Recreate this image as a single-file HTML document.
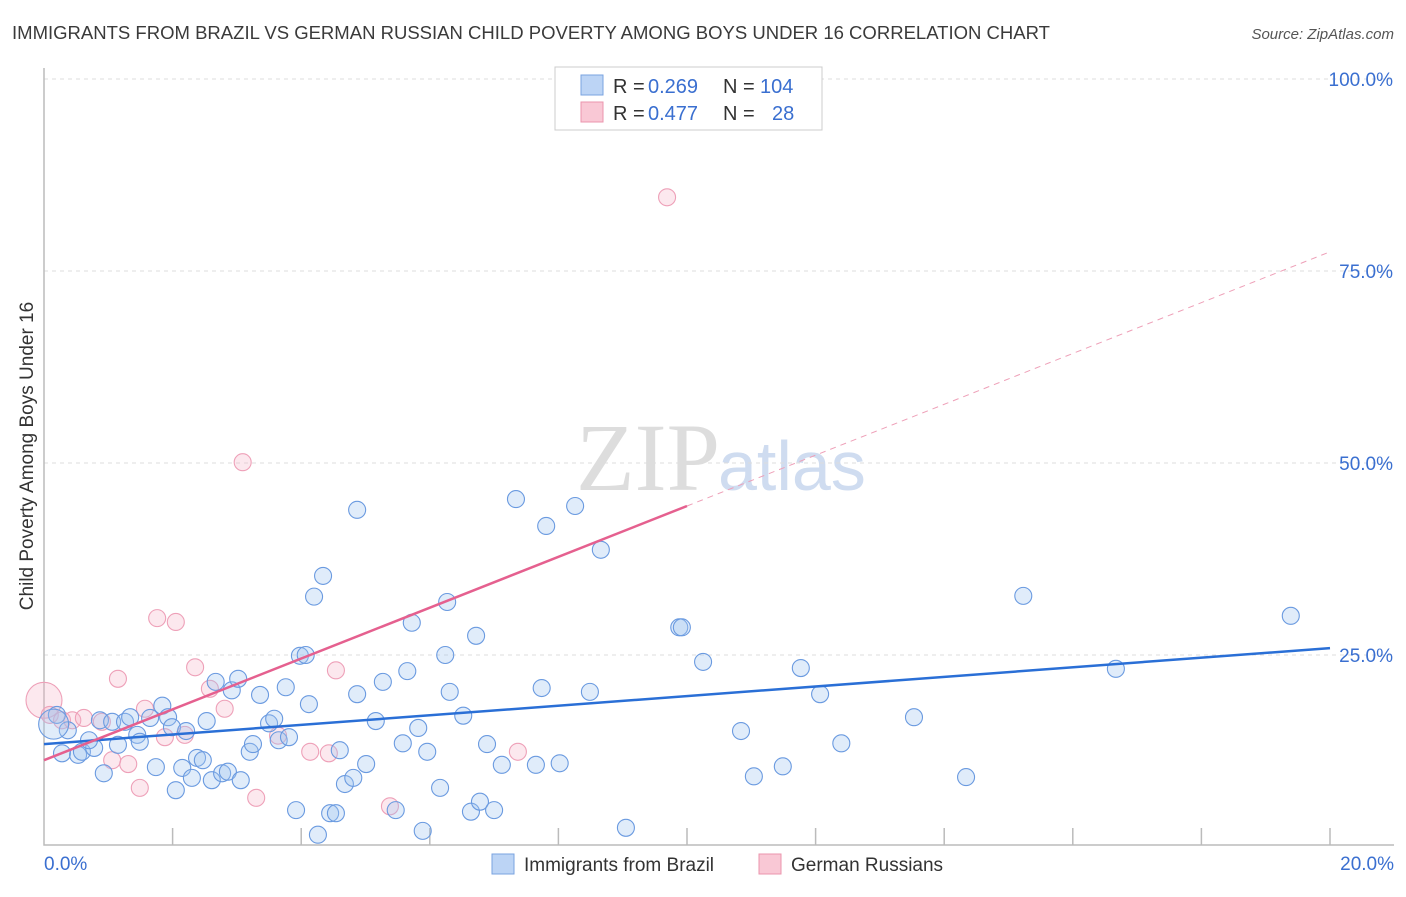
<!DOCTYPE html>
<html><head><meta charset="utf-8"><style>
body{margin:0;background:#fff;font-family:"Liberation Sans",sans-serif}
svg text{font-family:"Liberation Sans",sans-serif}
</style></head><body>
<svg id="c" width="1406" height="892">
<text x="12" y="39" font-size="18" fill="#3a3a3a" textLength="1038" lengthAdjust="spacingAndGlyphs">IMMIGRANTS FROM BRAZIL VS GERMAN RUSSIAN CHILD POVERTY AMONG BOYS UNDER 16 CORRELATION CHART</text>
<text x="1394" y="39" font-size="15" fill="#555" font-style="italic" text-anchor="end">Source: ZipAtlas.com</text>
<text x="720" y="490" font-size="96" fill="#ddd" text-anchor="end" style="font-family:'Liberation Serif',serif">ZIP</text>
<text x="718" y="490" font-size="70" fill="#cfdcf0">atlas</text>
<text transform="translate(33,456) rotate(-90)" font-size="19" fill="#333" text-anchor="middle">Child Poverty Among Boys Under 16</text>
<g id="grid"></g><g id="marks"></g>
<g>
<rect x="555" y="67" width="267" height="63" fill="#fff" stroke="#ccc"/>
<rect x="581" y="75" width="22" height="20" fill="#bcd4f5" stroke="#7aa3e0"/>
<rect x="581" y="102" width="22" height="20" fill="#f9c8d5" stroke="#eb95ad"/>
<text x="613" y="93" font-size="20" fill="#333">R =</text>
<text x="648" y="93" font-size="20" fill="#3a6fd0">0.269</text>
<text x="723" y="93" font-size="20" fill="#333">N =</text>
<text x="760" y="93" font-size="20" fill="#3a6fd0">104</text>
<text x="613" y="120" font-size="20" fill="#333">R =</text>
<text x="648" y="120" font-size="20" fill="#3a6fd0">0.477</text>
<text x="723" y="120" font-size="20" fill="#333">N =</text>
<text x="772" y="120" font-size="20" fill="#3a6fd0">28</text>
</g>
<g>
<rect x="492" y="854" width="22" height="20" fill="#bcd4f5" stroke="#7aa3e0"/>
<text x="524" y="871" font-size="19" fill="#333">Immigrants from Brazil</text>
<rect x="759" y="854" width="22" height="20" fill="#f9c8d5" stroke="#eb95ad"/>
<text x="791" y="871" font-size="19" fill="#333">German Russians</text>
</g>
</svg>
<script>
const blueX=[0.20,0.37,0.28,0.53,0.59,0.78,0.70,0.93,0.87,1.06,1.15,1.26,1.34,1.45,1.49,1.65,1.74,1.84,1.93,1.99,2.05,2.15,2.21,2.30,2.38,2.47,2.53,2.61,2.67,2.77,2.86,2.92,3.02,3.06,3.20,3.25,3.36,3.50,3.58,3.65,3.76,3.81,3.92,3.98,4.07,4.12,4.20,4.26,4.34,4.45,4.54,4.60,4.68,4.81,4.87,4.87,5.01,5.16,5.27,5.47,5.58,5.65,5.72,5.82,5.89,5.96,6.16,6.24,6.27,6.31,6.52,6.64,6.72,6.78,6.89,7.00,7.12,7.34,7.65,7.74,7.81,8.02,8.26,8.49,8.66,9.05,9.88,9.92,10.25,10.84,11.04,11.49,11.77,12.07,12.40,13.53,14.34,15.23,16.67,19.39,0.15];
const blueY=[17.2,15.2,12.2,12.0,12.4,12.9,13.9,9.6,16.5,16.3,13.3,16.3,16.9,14.6,13.7,16.8,10.4,18.4,16.9,15.6,7.4,10.3,15.1,9.0,11.6,11.3,16.4,8.7,21.5,9.6,9.8,20.4,21.9,8.7,12.4,13.4,19.8,16.1,16.7,13.9,20.8,14.3,4.8,24.9,25.0,18.6,32.6,1.6,35.3,4.4,4.4,12.6,8.2,9.0,43.9,19.9,10.8,16.4,21.5,4.8,13.5,22.9,29.2,15.5,2.1,12.4,7.7,25.0,31.9,20.2,17.1,4.6,27.5,5.9,13.4,4.8,10.7,45.3,10.7,20.7,41.8,10.9,44.4,20.2,38.7,2.5,28.6,28.6,24.1,15.1,9.2,10.5,23.3,19.9,13.5,16.9,9.1,32.7,23.2,30.1,16.0];
const pinkX=[0.0,0.09,0.28,0.44,0.62,0.90,1.06,1.15,1.31,1.49,1.57,1.76,1.88,2.05,2.19,2.35,2.58,2.81,3.09,3.30,3.64,4.14,4.43,4.54,5.38,7.37,9.69];
const pinkY=[19.1,17.2,16.5,16.5,16.8,16.3,11.3,21.9,10.8,7.7,18.0,29.8,14.3,29.3,14.6,23.4,20.6,18.0,50.1,6.4,14.5,12.4,12.2,23.0,5.3,12.4,84.6];
const yTicks=[25,50,75,100];
const xTickLabels=["0.0%","20.0%"];
const blueTrend=[13.4,25.9];
const pinkTrend=[11.3,3.31];
const NS="http://www.w3.org/2000/svg";
const sx=v=>44+v*64.3, sy=v=>847-v*7.68;
function mk(p,t,a){const e=document.createElementNS(NS,t);for(const k in a)e.setAttribute(k,a[k]);p.appendChild(e);return e;}
const g=document.getElementById('grid'),m=document.getElementById('marks');
yTicks.forEach(t=>{const l=mk(g,'line',{x1:44,x2:1394,y1:sy(t),y2:sy(t),stroke:'#ddd','stroke-dasharray':'4,4'});


const tx=mk(g,'text',{x:1393,y:sy(t)+7,'font-size':19,fill:'#3a6fd0','text-anchor':'end'});tx.textContent=t.toFixed(1)+'%';

});
const ax=mk(g,'path',{d:'M44,68 V845 H1394',fill:'none',stroke:'#bbb','stroke-width':1.5});


for(let i=1;i<=10;i++){const t=mk(g,'line',{x1:sx(i*2),x2:sx(i*2),y1:828,y2:845,stroke:'#bbb','stroke-width':1.5});

}
xTickLabels.forEach((s,i)=>{const t=mk(g,'text',{x:i?1394:44,y:870,'font-size':19,fill:'#3a6fd0','text-anchor':i?'end':'start'});t.textContent=s;

});
pinkX.forEach((x,i)=>{const c=mk(m,'circle',{cx:sx(x),cy:sy(pinkY[i]),r:i==0?18:8.5,fill:'rgba(246,180,200,0.3)',stroke:'#eea0b8','stroke-width':1.1});

});
blueX.forEach((x,i)=>{const c=mk(m,'circle',{cx:sx(x),cy:sy(blueY[i]),r:i==blueX.length-1?15:8.5,fill:'rgba(160,195,240,0.32)',stroke:'#6a9ae0','stroke-width':1.1});

});
const bl=mk(m,'line',{x1:sx(0),y1:sy(blueTrend[0]),x2:sx(20),y2:sy(blueTrend[1]),stroke:'#2a6fd6','stroke-width':2.5});


const pl=mk(m,'line',{x1:sx(0),y1:sy(pinkTrend[0]),x2:sx(10),y2:sy(pinkTrend[0]+10*pinkTrend[1]),stroke:'#e5608f','stroke-width':2.5});


const pd=mk(m,'line',{x1:sx(10),y1:sy(pinkTrend[0]+10*pinkTrend[1]),x2:sx(20),y2:sy(pinkTrend[0]+20*pinkTrend[1]),stroke:'#eea0b8','stroke-width':1,'stroke-dasharray':'6,5'});


</script>
</body></html>
